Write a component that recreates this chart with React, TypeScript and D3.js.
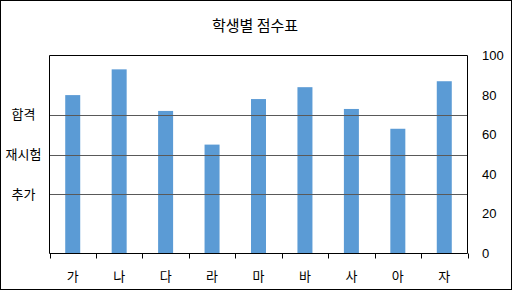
import React from "react";
import * as d3 from "d3";

const categories = ["가", "나", "다", "라", "마", "바", "사", "아", "자"];
const scores = [80, 93, 72, 55, 78, 84, 73, 63, 87];
const yTicks = [0, 20, 40, 60, 80, 100];
const refLabels = ["합격", "재시험", "추가"];
const refValues = [70, 50, 30];
const title = "학생별 점수표";

const W = 512;
const H = 290;
const plot = { left: 49.5, right: 467.5, top: 55.5, bottom: 253.5 };
const korFont = "'Noto Sans CJK KR', 'Noto Sans', sans-serif";
const numFont = "'Liberation Sans', Arial, sans-serif";

export default function App() {
  const x = d3
    .scaleBand<string>()
    .domain(categories)
    .range([plot.left, plot.right])
    .paddingInner(0)
    .paddingOuter(0);
  const y = d3.scaleLinear().domain([0, 100]).range([plot.bottom, plot.top]);
  const barW = 15;
  const bw = x.bandwidth();
  const boundaries = categories.map((c) => x(c)!).concat([plot.right]);

  return (
    <svg
      width={W}
      height={H}
      style={{ position: "absolute", left: 0, top: 0, background: "#fff" }}
    >
      <rect x={0.5} y={0.5} width={W - 1} height={H - 1} fill="#fff" stroke="#000" strokeWidth={1} />
      <text x={255} y={31} textAnchor="middle" fontFamily={korFont} fontSize={15} fill="#000">
        {title}
      </text>
      {/* bars */}
      {categories.map((c, i) => (
        <rect
          key={c}
          x={x(c)! + bw / 2 - barW / 2}
          y={y(scores[i])}
          width={barW}
          height={y(0) - y(scores[i])}
          fill="#5b9bd5"
        />
      ))}
      {/* reference lines */}
      {refValues.map((v, i) => (
        <g key={v}>
          <line
            x1={plot.left}
            x2={plot.right}
            y1={Math.round(y(v)) + 0.5}
            y2={Math.round(y(v)) + 0.5}
            stroke="#595959"
            strokeWidth={1}
          />
          <text
            x={23.5}
            y={y(v) + 4.5}
            textAnchor="middle"
            fontFamily={korFont}
            fontSize={13}
            fill="#000"
          >
            {refLabels[i]}
          </text>
        </g>
      ))}
      {/* plot border */}
      <line x1={plot.left} x2={plot.right} y1={plot.top} y2={plot.top} stroke="#000" />
      <line x1={plot.left} x2={plot.left} y1={plot.top} y2={plot.bottom} stroke="#000" />
      <line x1={plot.right} x2={plot.right} y1={plot.top} y2={plot.bottom} stroke="#000" />
      <line x1={plot.left} x2={plot.right} y1={plot.bottom} y2={plot.bottom} stroke="#000" />
      {/* x ticks */}
      {boundaries.map((b, i) => (
        <line
          key={i}
          x1={Math.round(b) + 0.5}
          x2={Math.round(b) + 0.5}
          y1={plot.bottom}
          y2={plot.bottom + 5}
          stroke="#000"
        />
      ))}
      {categories.map((c) => (
        <text
          key={c}
          x={x(c)! + bw / 2}
          y={281}
          textAnchor="middle"
          fontFamily={korFont}
          fontSize={13}
          fill="#000"
        >
          {c}
        </text>
      ))}
      {/* right axis labels */}
      {yTicks.map((t) => (
        <text
          key={t}
          x={482}
          y={y(t) + 4.5}
          textAnchor="start"
          fontFamily={numFont}
          fontSize={13}
          fill="#000"
        >
          {t}
        </text>
      ))}
    </svg>
  );
}
